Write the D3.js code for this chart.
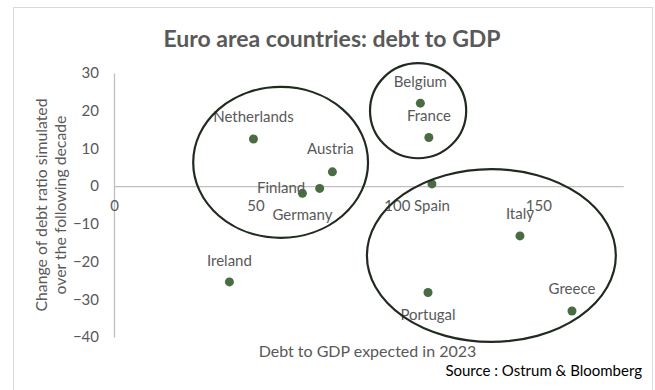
<!DOCTYPE html>
<html>
<head>
<meta charset="utf-8">
<script src="https://cdn.jsdelivr.net/npm/d3@7"></script>
<style>
  html, body { margin: 0; padding: 0; background: #fff; }
  svg { display: block; font-family: Lato, "Open Sans", sans-serif; }
</style>
</head>
<body>
<div id="chart"></div>
<script>
// countries and values
var countries = ["Netherlands", "Austria", "Finland", "Germany", "Belgium", "France",
                 "Spain", "Italy", "Ireland", "Portugal", "Greece"];
var debt2023  = [49.3, 77.2, 72.7, 66.6, 108.3, 111.3, 112.4, 143.5, 40.8, 111.0, 161.9];
var debtChange = [12.5, 3.8, -0.6, -1.9, 22.0, 12.9, 0.6, -13.2, -25.4, -28.2, -33.1];

var xTicks = [0, 50, 100, 150];
var yTicks = [30, 20, 10, 0, -10, -20, -30, -40];

// groups circled in the picture (data units: centre x, centre y, radius x, radius y)
var groupCx = [58.9, 107.5, 133.4];
var groupCy = [6.3, 20.0, -18.4];
var groupRx = [30.9, 17.0, 44.0];
var groupRy = [20.0, 12.6, 22.9];

// label offsets from the point, in pixels
var labelOff = {
  "Netherlands": [0, -17], "Austria": [-2, -17.5], "Finland": [-38.5, 5],
  "Germany": [0, 27], "Belgium": [0, -16.5], "France": [0, -16.5],
  "Spain": [0, 27.5], "Italy": [0, -16.5], "Ireland": [0, -16],
  "Portugal": [0, 28], "Greece": [0, -17]
};

var W = 655, H = 390;
var svg = d3.select("#chart").append("svg")
  .attr("width", W).attr("height", H);

svg.append("rect")
  .attr("x", 13.5).attr("y", 7.5)
  .attr("width", 639).attr("height", 390)
  .attr("fill", "#fff").attr("stroke", "#d9d9d9");

var x = d3.scaleLinear().domain([0, 180]).range([114, 623.2]);
var y = d3.scaleLinear().domain([-40, 30]).range([337, 73]);

svg.append("text")
  .attr("x", 332).attr("y", 47)
  .attr("text-anchor", "middle")
  .style("font-size", "23px").style("font-weight", "bold")
  .style("fill", "#595959")
  .text("Euro area countries: debt to GDP");

var yAxis = svg.append("g")
  .attr("transform", "translate(" + x(0) + ",0)")
  .call(d3.axisLeft(y).tickValues(yTicks).tickSize(0).tickPadding(15));
var xAxis = svg.append("g")
  .attr("transform", "translate(0," + y(0) + ")")
  .call(d3.axisBottom(x).tickValues(xTicks).tickSize(0).tickPadding(14));

[xAxis, yAxis].forEach(function(a) {
  a.select(".domain").attr("stroke", "#bfbfbf").attr("stroke-width", 1.3);
  a.selectAll("text").style("font-size", "15px").style("fill", "#595959")
    .style("font-family", "Lato, sans-serif");
});

svg.selectAll("circle.pt")
  .data(countries)
  .enter()
  .append("circle")
  .attr("class", "pt")
  .attr("cx", function(d, i) { return x(debt2023[i]); })
  .attr("cy", function(d, i) { return y(debtChange[i]); })
  .attr("r", 4.5)
  .attr("fill", "#4b6b43");

svg.selectAll("text.lbl")
  .data(countries)
  .enter()
  .append("text")
  .attr("class", "lbl")
  .attr("x", function(d, i) { return x(debt2023[i]) + labelOff[d][0]; })
  .attr("y", function(d, i) { return y(debtChange[i]) + labelOff[d][1]; })
  .attr("text-anchor", "middle")
  .style("font-size", "15px")
  .style("fill", "#595959")
  .text(function(d) { return d; });

svg.selectAll("ellipse")
  .data(groupCx)
  .enter()
  .append("ellipse")
  .attr("cx", function(d) { return x(d); })
  .attr("cy", function(d, i) { return y(groupCy[i]); })
  .attr("rx", function(d, i) { return x(groupRx[i]) - x(0); })
  .attr("ry", function(d, i) { return y(0) - y(groupRy[i]); })
  .attr("fill", "none")
  .attr("stroke", "#1f2b1f")
  .attr("stroke-width", 2.2);

// axis titles
var yt = svg.append("text")
  .attr("transform", "translate(47,205) rotate(-90)")
  .attr("text-anchor", "middle")
  .style("font-size", "15.8px").style("fill", "#595959");
yt.append("tspan").attr("x", 0).attr("dy", 0).text("Change of debt ratio simulated");
yt.append("tspan").attr("x", 0).attr("dy", 19).text("over the following decade");

svg.append("text")
  .attr("x", 367.5).attr("y", 357)
  .attr("text-anchor", "middle")
  .style("font-size", "16px").style("fill", "#595959")
  .text("Debt to GDP expected in 2023");

svg.append("text")
  .attr("x", 642).attr("y", 376)
  .attr("text-anchor", "end")
  .style("font-size", "15px").style("fill", "#000")
  .text("Source : Ostrum & Bloomberg");
</script>
</body>
</html>
